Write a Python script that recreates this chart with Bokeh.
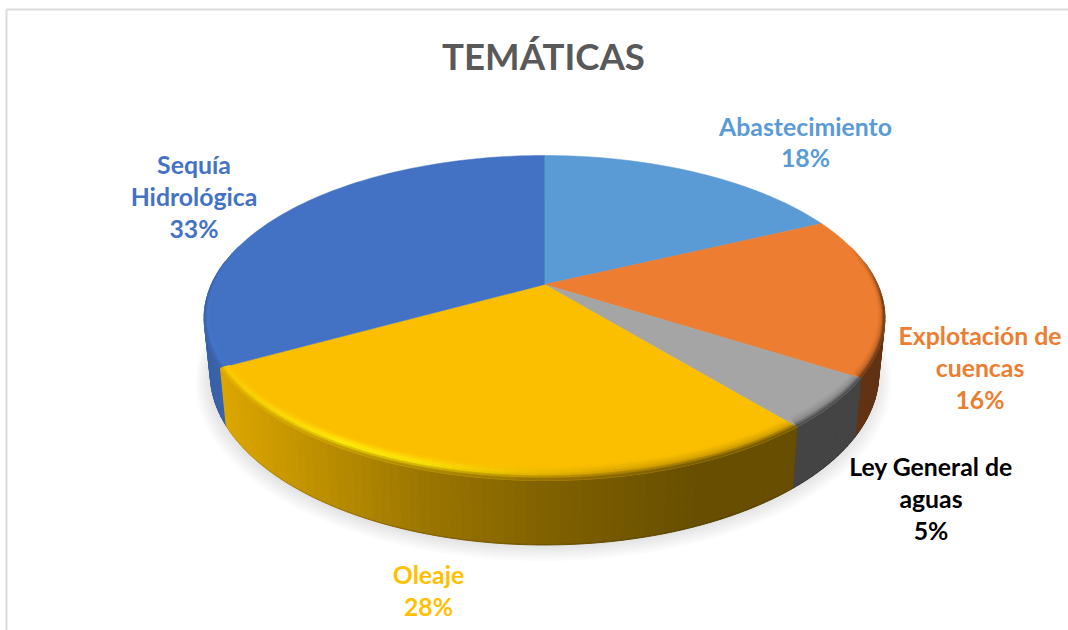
import numpy as np
from bokeh.plotting import figure
from bokeh.models import Range1d, ColumnDataSource
from bokeh.core.properties import value
from bokeh.embed import file_html
from bokeh.resources import INLINE

# ---- data ----
categories = ["Abastecimiento", "Explotación de cuencas", "Ley General de aguas", "Oleaje", "Sequía Hidrológica"]
shares = [18, 16, 5, 28, 33]
label_lines = [["Abastecimiento", "18%"],
               ["Explotación de", "cuencas", "16%"],
               ["Ley General de", "aguas", "5%"],
               ["Oleaje", "28%"],
               ["Sequía", "Hidrológica", "33%"]]
title_text = "TEMÁTICAS"

# ---- styles ----
top_colors = [(91, 155, 213), (236, 125, 49), (165, 165, 165), (252, 191, 0), (67, 114, 196)]
hi_colors = [(120, 180, 235), (255, 160, 90), (200, 200, 200), (255, 240, 10), (75, 130, 225)]
text_colors = ["#5B9BD5", "#ED7D31", "#000000", "#FFC000", "#4472C4"]
label_x = [805, 979.5, 930.5, 428, 193.5]
label_y = [[126, 157], [335, 367, 399], [466, 498, 530], [574, 606], [164, 196, 228]]

# ---- perspective of the disc ----
CX, CY, RX, RY, K, DEPTH = 544.0, 284.0, 333.0, 155.6, 0.206, 54.0


def proj(a, z=0.0, ru=1.0, rv=1.0, lo=None, hi=None):
    u, v = np.sin(a) * ru, -np.cos(a) * rv
    if lo is not None:
        th = np.arctan2(u, -v) % (2 * np.pi)
        th = np.clip(th, lo, hi)
        r = np.hypot(u, v)
        u, v = r * np.sin(th), -r * np.cos(th)
    f = 1.0 / (1.0 - K * v)
    s = 1.0 - 0.018 * z
    return CX + RX * u * f * s, CY + RY * v * f * s + DEPTH * z * f


def hexcol(c):
    c = np.clip(np.round(c), 0, 255).astype(int)
    return "#%02x%02x%02x" % tuple(c)


def side_factor(x):
    return np.interp(x, [205, 225, 420, 560, 700, 900], [0.85, 0.87, 0.62, 0.50, 0.41, 0.41])


def highlight(x):
    return np.interp(x, [220, 260, 340, 420, 520, 620], [0.5, 0.7, 1.0, 0.9, 0.4, 0.0])


p = figure(width=1068, height=630, x_range=Range1d(0, 1068), y_range=Range1d(630, 0),
           output_backend="svg", toolbar_location=None, min_border=0)
p.axis.visible = False
p.grid.visible = False
p.outline_line_color = None
p.background_fill_color = "white"

# frame
p.segment([6, 6], [9, 9], [1068, 6], [9, 630], line_color="#DCDCDC", line_width=2)

# soft shadow under the disc
full = np.radians(np.linspace(0, 360, 181))
for i in range(7):
    grow = 1.0 + 0.0065 * (6 - i)
    sx, sy = proj(full, 1.0, grow, grow)
    p.patch(sx - 1, sy + 2 + (6 - i) * 0.6, fill_color="#808080", fill_alpha=0.035, line_color=None)

# slice boundaries, clockwise from the top
edges = np.radians(np.cumsum([0] + shares) * 3.6)

side_q, lower_q, bevel_q, tops = [], [], [], []
for idx, base in enumerate(top_colors):
    base = np.array(base, float)
    hi = np.array(hi_colors[idx], float)
    a0, a1 = edges[idx], edges[idx + 1]
    n = max(3, int(np.degrees(a1 - a0) / 1.5))
    ang = np.linspace(a0, a1, n + 1)
    tx, ty = proj(ang)
    tops.append((list(tx) + [CX], list(ty) + [CY], hexcol(base)))
    for j in range(n):
        a, b = ang[j], ang[j + 1]
        mid = 0.5 * (a + b)
        v = -np.cos(mid)
        mx = proj(mid)[0]
        if v > -0.15:
            f = side_factor(mx)
            side = base * f
            xa, ya = proj(a)
            xb, yb = proj(b)
            xc, yc = proj(b, 0.975)
            xd, yd = proj(a, 0.975)
            side_q.append((v, [xa, xb, xc, xd], [ya, yb, yc, yd], hexcol(side)))
            xe, ye = proj(b, 1.0)
            xg, yg = proj(a, 1.0)
            lower_q.append((v, [xd, xc, xe, xg], [yd, yc, ye, yg], hexcol(side * 0.86)))
        w = np.clip((v + 0.25) / 0.35, 0, 1)
        if w <= 0:
            continue
        h = highlight(mx)
        side = base * side_factor(mx)
        c1 = (base * (1 - h) + hi * h) if h > 0 else base
        c1 = c1 * (0.4 + 0.6 * h) + (0.6 * base + 0.4 * side) * (0.6 - 0.6 * h)
        steps = np.linspace(0, 1, 7)
        for s0, s1 in zip(steps[:-1], steps[1:]):
            sm = 0.5 * (s0 + s1)
            if sm < 0.55:
                col = base + (c1 - base) * (sm / 0.55)
            else:
                col = c1 + (side - c1) * ((sm - 0.55) / 0.45)
            col = base * (1 - w) + col * w
            ru0, rv0 = 1 - 0.016 * (1 - s0), 1 - 0.058 * (1 - s0)
            ru1, rv1 = 1 - 0.016 * (1 - s1), 1 - 0.058 * (1 - s1)
            x0a, y0a = proj(a, 0, ru0, rv0, a0, a1)
            x0b, y0b = proj(b, 0, ru0, rv0, a0, a1)
            x1b, y1b = proj(b, 0, ru1, rv1, a0, a1)
            x1a, y1a = proj(a, 0, ru1, rv1, a0, a1)
            bevel_q.append(([x0a, x0b, x1b, x1a], [y0a, y0b, y1b, y1a], hexcol(col)))

side_q.sort(key=lambda q: q[0])
lower_q.sort(key=lambda q: q[0])
p.patches([q[1] for q in lower_q], [q[2] for q in lower_q], fill_color=[q[3] for q in lower_q],
          line_color=[q[3] for q in lower_q], line_width=1.0)
p.patches([q[1] for q in side_q], [q[2] for q in side_q], fill_color=[q[3] for q in side_q],
          line_color=[q[3] for q in side_q], line_width=1.2)
p.patches([t[0] for t in tops], [t[1] for t in tops], fill_color=[t[2] for t in tops],
          line_color=[t[2] for t in tops], line_width=0.5)
p.patches([q[0] for q in bevel_q], [q[1] for q in bevel_q], fill_color=[q[2] for q in bevel_q],
          line_color=[q[2] for q in bevel_q], line_width=0.7)

# title and labels
p.text([543], [55.5], text=[title_text], text_font=value("Lato"), text_font_style="bold",
       text_font_size="36.6px", text_color="#595959", text_align="center", text_baseline="middle")
for lines, lx, lys, col in zip(label_lines, label_x, label_y, text_colors):
    src = ColumnDataSource(dict(x=[lx] * len(lines), y=lys, t=lines))
    p.text("x", "y", text="t", source=src, text_font=value("Lato"), text_font_style="bold",
           text_font_size="24.8px", text_color=col, text_align="center", text_baseline="middle")

open("out.html", "w").write(file_html(p, INLINE))
